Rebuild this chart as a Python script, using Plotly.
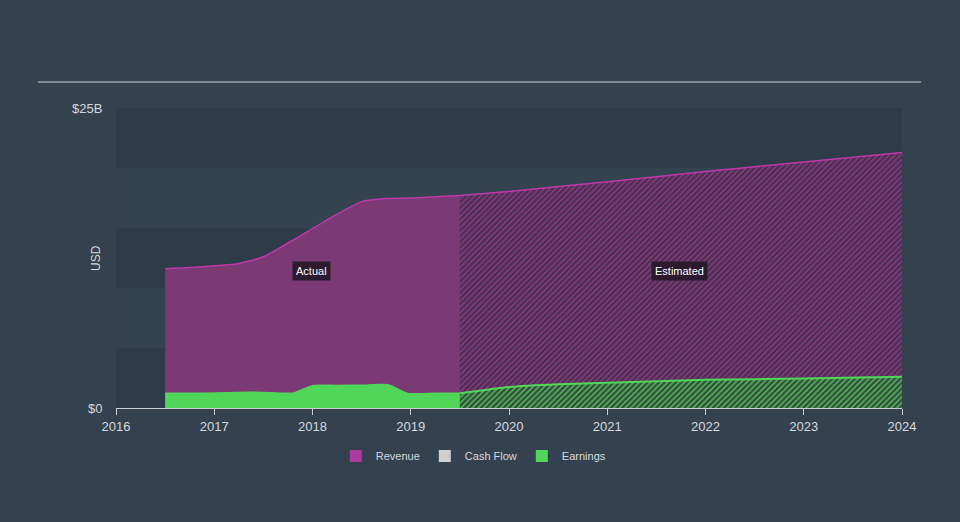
import plotly.graph_objects as go

# ---- data (USD billions) ----
rev_act_x = [2016.5, 2016.75, 2017.0, 2017.25, 2017.5, 2017.75, 2018.0, 2018.25, 2018.5, 2018.75, 2019.0, 2019.25, 2019.5]
rev_act_y = [11.6, 11.7, 11.85, 12.05, 12.6, 13.75, 14.95, 16.15, 17.2, 17.45, 17.5, 17.6, 17.7]
rev_est_x = [2019.5, 2020.0, 2021.0, 2022.0, 2023.0, 2024.0]
rev_est_y = [17.7, 18.05, 18.85, 19.7, 20.5, 21.3]

earn_act_x = [2016.5, 2016.75, 2017.0, 2017.25, 2017.5, 2017.8, 2018.0, 2018.25, 2018.5, 2018.77, 2018.97, 2019.25, 2019.5]
earn_act_y = [1.22, 1.22, 1.24, 1.3, 1.3, 1.24, 1.86, 1.88, 1.9, 1.94, 1.22, 1.22, 1.22]
earn_est_x = [2019.5, 2020.0, 2020.5, 2021.0, 2022.0, 2023.0, 2024.0]
earn_est_y = [1.22, 1.75, 1.98, 2.1, 2.35, 2.45, 2.6]

year_ticks = [2016, 2017, 2018, 2019, 2020, 2021, 2022, 2023, 2024]
band_edges = [0, 5, 10, 15, 20, 25]

BG = "#344250"
DARK_BAND = "#2e3b48"
LIGHT_BAND = "#344350"
REV_FILL = "#7b3a74"
REV_LINE = "#bd3aa6"
EARN = "#50d658"
TXT = "#d5d9de"
FONT = "Liberation Sans, Arial, sans-serif"

fig = go.Figure()

fig.add_trace(go.Scatter(x=rev_act_x, y=rev_act_y, fill="tozeroy", mode="lines",
                         line=dict(color=REV_LINE, width=1.5, shape="spline", smoothing=0.6),
                         fillcolor=REV_FILL, showlegend=False, hoverinfo="skip"))
fig.add_trace(go.Scatter(x=rev_est_x, y=rev_est_y, fill="tozeroy", mode="lines",
                         line=dict(color=REV_LINE, width=1.5, shape="spline", smoothing=0.6),
                         fillpattern=dict(shape="/", bgcolor="#4a2f50", fgcolor="#84397c",
                                          size=4, solidity=0.45, fillmode="replace"),
                         showlegend=False, hoverinfo="skip"))
fig.add_trace(go.Scatter(x=earn_act_x, y=earn_act_y, fill="tozeroy", mode="lines",
                         line=dict(color=EARN, width=1.5, shape="spline", smoothing=0.6),
                         fillcolor=EARN, showlegend=False, hoverinfo="skip"))
fig.add_trace(go.Scatter(x=earn_est_x, y=earn_est_y, fill="tozeroy", mode="lines",
                         line=dict(color=EARN, width=2, shape="spline", smoothing=0.6),
                         fillpattern=dict(shape="/", bgcolor="#35493f", fgcolor="#4fb556",
                                          size=4, solidity=0.45, fillmode="replace"),
                         showlegend=False, hoverinfo="skip"))

for name, col in [("Revenue", "#b0399e"), ("Cash Flow", "#cfcfcf"), ("Earnings", EARN)]:
    fig.add_trace(go.Bar(x=[None], y=[None], name=name, marker=dict(color=col, line=dict(width=0))))

shapes = []
for i in range(len(band_edges) - 1):
    shapes.append(dict(type="rect", xref="paper", yref="y", x0=0, x1=1,
                       y0=band_edges[i], y1=band_edges[i + 1],
                       fillcolor=DARK_BAND if i % 2 == 0 else LIGHT_BAND,
                       line=dict(width=0), layer="below"))
shapes.append(dict(type="line", xref="paper", yref="paper",
                   x0=(38 - 116) / 786, x1=(921 - 116) / 786, y0=(408 - 82) / 300, y1=(408 - 82) / 300,
                   line=dict(color="#c8cdd2", width=1.2)))
fig.update_layout(shapes=shapes)

fig.add_annotation(x=2017.99, y=11.4, text="Actual", showarrow=False,
                   font=dict(color="#ffffff", size=11, family=FONT),
                   bgcolor="#2c1a2e", borderpad=3)
fig.add_annotation(x=2021.74, y=11.4, text="Estimated", showarrow=False,
                   font=dict(color="#ffffff", size=11, family=FONT),
                   bgcolor="#2c1a2e", borderpad=3)
fig.add_annotation(xref="paper", yref="paper", x=(96 - 116) / 786, y=0.5, xanchor="center",
                   text="USD", textangle=-90, showarrow=False,
                   font=dict(size=12, color=TXT, family=FONT))

fig.update_layout(
    width=960, height=522,
    paper_bgcolor=BG, plot_bgcolor=BG,
    margin=dict(l=116, r=58, t=108, b=114),
    font=dict(family=FONT, color=TXT),
    barmode="overlay",
    xaxis=dict(range=[2016, 2024], tickvals=year_ticks, ticktext=[str(y) for y in year_ticks],
               showgrid=False, zeroline=False, showline=True, linecolor="#c8cdd2", linewidth=1,
               ticks="outside", ticklen=6, tickcolor="#c8cdd2", tickfont=dict(size=13, color=TXT),
               fixedrange=True, automargin=False),
    yaxis=dict(range=[0, 25], tickvals=[0, 25], ticktext=["$0", "$25B"],
               showgrid=False, zeroline=False, showline=False,
               ticks="outside", ticklen=10, tickcolor="rgba(0,0,0,0)",
               tickfont=dict(size=13, color=TXT),
               fixedrange=True, automargin=False),
    legend=dict(orientation="h", xref="container", x=0.493, xanchor="center",
                yref="container", y=1 - 456 / 522, yanchor="middle",
                font=dict(size=11, color=TXT), bgcolor="rgba(0,0,0,0)",
                itemwidth=30, traceorder="normal"),
)

fig.write_html("out.html")
